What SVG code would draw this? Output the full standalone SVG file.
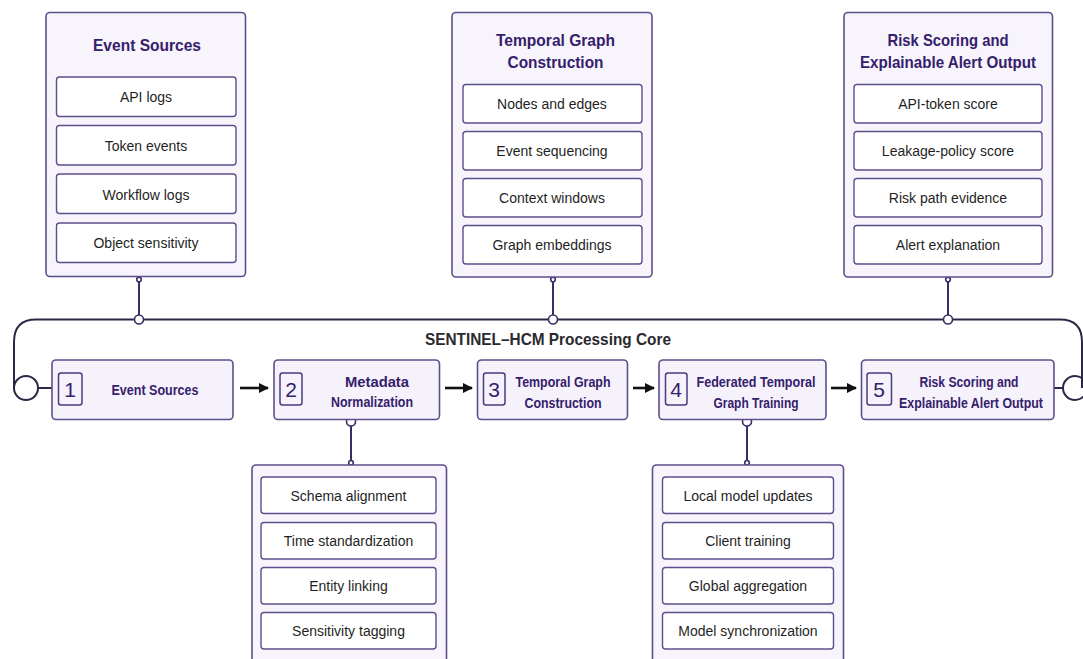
<svg xmlns="http://www.w3.org/2000/svg" width="1083" height="659" viewBox="0 0 1083 659">
<defs>
<style>
.panel{fill:#f7f4fc;stroke:#5d4e8c;stroke-width:1.6}
.item{fill:#ffffff;stroke:#5d4e8c;stroke-width:1.4}
.stage{fill:#f6f2fc;stroke:#5d4e8c;stroke-width:1.6}
.num{fill:#f6f2fc;stroke:#4a3b7c;stroke-width:1.5}
.ptitle{font-family:"Liberation Sans",Arial,sans-serif;font-size:17px;font-weight:bold;fill:#35206b;text-anchor:middle}
.itxt{font-family:"Liberation Sans",Arial,sans-serif;font-size:14px;fill:#1f1f24;text-anchor:middle}
.stxt{font-family:"Liberation Sans",Arial,sans-serif;font-size:14.5px;font-weight:bold;fill:#35206b;text-anchor:middle}
.ntxt{font-family:"Liberation Sans",Arial,sans-serif;font-size:21px;fill:#35206b;text-anchor:middle}
.core{font-family:"Liberation Sans",Arial,sans-serif;font-size:16.5px;font-weight:bold;fill:#2a2a2e;text-anchor:middle}
.wire{fill:none;stroke:#2c2745;stroke-width:2}
.vwire{fill:none;stroke:#3a2d66;stroke-width:2}
.dot{fill:#ffffff;stroke:#3a2d66;stroke-width:1.6}
.arrow{fill:none;stroke:#111;stroke-width:2.6}
</style>
<marker id="ah" viewBox="0 0 10 10" refX="9" refY="5" markerWidth="4" markerHeight="4" orient="auto" markerUnits="strokeWidth">
<path d="M0,0 L10,5 L0,10 z" fill="#111"/>
</marker>
</defs>
<rect width="1083" height="659" fill="#ffffff"/>

<g id="connectors">
<path class="wire" d="M1060,319.5 L36,319.5 Q14,319.5 14,342 L14,388"/>
<path class="wire" d="M1060,319.5 Q1082,319.5 1082,342 L1082,388"/>
<circle class="wire" cx="26" cy="388" r="12"/>
<circle class="wire" cx="1075" cy="388" r="12"/>
<line class="wire" x1="38" y1="388" x2="52" y2="388"/>
<line class="wire" x1="1054" y1="388" x2="1063" y2="388"/>
<line class="vwire" x1="139" y1="279" x2="139" y2="319"/>
<line class="vwire" x1="553" y1="279" x2="553" y2="319"/>
<line class="vwire" x1="948" y1="279" x2="948" y2="319"/>
<circle class="dot" cx="139" cy="279.5" r="2.3"/>
<circle class="dot" cx="553" cy="279.5" r="2.3"/>
<circle class="dot" cx="948" cy="279.5" r="2.3"/>
<circle class="dot" cx="139" cy="319.5" r="4.5"/>
<circle class="dot" cx="553" cy="319.5" r="4.5"/>
<circle class="dot" cx="948" cy="319.5" r="4.5"/>
<line class="vwire" x1="351" y1="421" x2="351" y2="463"/>
<line class="vwire" x1="747" y1="421" x2="747" y2="463"/>
<circle class="dot" cx="351" cy="421.5" r="4.5"/>
<circle class="dot" cx="747" cy="421.5" r="4.5"/>
<circle class="dot" cx="351" cy="462.8" r="2.3"/>
<circle class="dot" cx="747" cy="462.8" r="2.3"/>
<line class="arrow" x1="240" y1="388" x2="268" y2="388" marker-end="url(#ah)"/>
<line class="arrow" x1="445" y1="388" x2="472" y2="388" marker-end="url(#ah)"/>
<line class="arrow" x1="633" y1="388" x2="654" y2="388" marker-end="url(#ah)"/>
<line class="arrow" x1="831" y1="388" x2="856" y2="388" marker-end="url(#ah)"/>
</g>

<text class="core" x="548" y="345" textLength="246" lengthAdjust="spacingAndGlyphs">SENTINEL–HCM Processing Core</text>

<g id="panel-event-sources">
<rect class="panel" x="46" y="12.5" width="199.5" height="264" rx="4"/>
<text class="ptitle" x="147" y="51" textLength="108" lengthAdjust="spacingAndGlyphs">Event Sources</text>
<rect class="item" x="56.5" y="77" width="179.5" height="39.5" rx="3"/>
<text class="itxt" x="146" y="102">API logs</text>
<rect class="item" x="56.5" y="125.5" width="179.5" height="39.5" rx="3"/>
<text class="itxt" x="146" y="151">Token events</text>
<rect class="item" x="56.5" y="174" width="179.5" height="39.5" rx="3"/>
<text class="itxt" x="146" y="200">Workflow logs</text>
<rect class="item" x="56.5" y="223" width="179.5" height="39.5" rx="3"/>
<text class="itxt" x="146" y="248">Object sensitivity</text>
</g>

<g id="panel-temporal-graph">
<rect class="panel" x="452" y="12.5" width="200" height="264.5" rx="4"/>
<text class="ptitle" x="555.5" y="46" textLength="119" lengthAdjust="spacingAndGlyphs">Temporal Graph</text>
<text class="ptitle" x="555.5" y="68" textLength="96" lengthAdjust="spacingAndGlyphs">Construction</text>
<rect class="item" x="463" y="84.5" width="179" height="38.5" rx="3"/>
<text class="itxt" x="552" y="109">Nodes and edges</text>
<rect class="item" x="463" y="131.5" width="179" height="38.5" rx="3"/>
<text class="itxt" x="552" y="156">Event sequencing</text>
<rect class="item" x="463" y="178.5" width="179" height="38.5" rx="3"/>
<text class="itxt" x="552" y="203">Context windows</text>
<rect class="item" x="463" y="225.5" width="179" height="38.5" rx="3"/>
<text class="itxt" x="552" y="250">Graph embeddings</text>
</g>

<g id="panel-risk-scoring">
<rect class="panel" x="844" y="12.5" width="208.5" height="264.5" rx="4"/>
<text class="ptitle" x="948" y="46" textLength="121" lengthAdjust="spacingAndGlyphs">Risk Scoring and</text>
<text class="ptitle" x="948" y="68" textLength="176" lengthAdjust="spacingAndGlyphs">Explainable Alert Output</text>
<rect class="item" x="854" y="84.5" width="188" height="38.5" rx="3"/>
<text class="itxt" x="948" y="109">API-token score</text>
<rect class="item" x="854" y="131.5" width="188" height="38.5" rx="3"/>
<text class="itxt" x="948" y="156">Leakage-policy score</text>
<rect class="item" x="854" y="178.5" width="188" height="38.5" rx="3"/>
<text class="itxt" x="948" y="203">Risk path evidence</text>
<rect class="item" x="854" y="225.5" width="188" height="38.5" rx="3"/>
<text class="itxt" x="948" y="250">Alert explanation</text>
</g>

<g id="stage-1">
<rect class="stage" x="52" y="360" width="181" height="59.5" rx="4"/>
<rect class="num" x="58.5" y="373" width="23.5" height="32" rx="2.5"/>
<text class="ntxt" x="70.2" y="396.5">1</text>
<text class="stxt" x="155" y="395" textLength="87" lengthAdjust="spacingAndGlyphs">Event Sources</text>
</g>

<g id="stage-2">
<rect class="stage" x="274" y="360" width="165.5" height="59.5" rx="4"/>
<rect class="num" x="280" y="373" width="22" height="32" rx="2.5"/>
<text class="ntxt" x="291" y="396.5">2</text>
<text class="stxt" x="377" y="387" textLength="64" lengthAdjust="spacingAndGlyphs">Metadata</text>
<text class="stxt" x="372" y="407" textLength="82" lengthAdjust="spacingAndGlyphs">Normalization</text>
</g>

<g id="stage-3">
<rect class="stage" x="477.5" y="360" width="150" height="59.5" rx="4"/>
<rect class="num" x="483.5" y="373" width="21.5" height="32" rx="2.5"/>
<text class="ntxt" x="494.2" y="396.5">3</text>
<text class="stxt" x="563" y="387" textLength="95" lengthAdjust="spacingAndGlyphs">Temporal Graph</text>
<text class="stxt" x="563" y="407.5" textLength="77" lengthAdjust="spacingAndGlyphs">Construction</text>
</g>

<g id="stage-4">
<rect class="stage" x="659" y="360" width="167" height="59.5" rx="4"/>
<rect class="num" x="665.5" y="373" width="21.5" height="32" rx="2.5"/>
<text class="ntxt" x="676.2" y="396.5">4</text>
<text class="stxt" x="756" y="387" textLength="119" lengthAdjust="spacingAndGlyphs">Federated Temporal</text>
<text class="stxt" x="756" y="407.5" textLength="85" lengthAdjust="spacingAndGlyphs">Graph Training</text>
</g>

<g id="stage-5">
<rect class="stage" x="861.5" y="360" width="192.5" height="59.5" rx="4"/>
<rect class="num" x="867" y="373" width="24.5" height="32" rx="2.5"/>
<text class="ntxt" x="879.2" y="396.5">5</text>
<text class="stxt" x="969" y="387" textLength="99" lengthAdjust="spacingAndGlyphs">Risk Scoring and</text>
<text class="stxt" x="971" y="407.5" textLength="144" lengthAdjust="spacingAndGlyphs">Explainable Alert Output</text>
</g>

<g id="panel-metadata">
<rect class="panel" x="252" y="465" width="194.5" height="210" rx="4"/>
<rect class="item" x="261" y="477" width="175" height="36.5" rx="3"/>
<text class="itxt" x="348.5" y="500.5">Schema alignment</text>
<rect class="item" x="261" y="522.5" width="175" height="36.5" rx="3"/>
<text class="itxt" x="348.5" y="545.5">Time standardization</text>
<rect class="item" x="261" y="567.5" width="175" height="36.5" rx="3"/>
<text class="itxt" x="348.5" y="591">Entity linking</text>
<rect class="item" x="261" y="612.5" width="175" height="36.5" rx="3"/>
<text class="itxt" x="348.5" y="636">Sensitivity tagging</text>
</g>

<g id="panel-federated">
<rect class="panel" x="652.5" y="465" width="191" height="210" rx="4"/>
<rect class="item" x="662.5" y="477" width="171" height="36.5" rx="3"/>
<text class="itxt" x="748" y="500.5">Local model updates</text>
<rect class="item" x="662.5" y="522.5" width="171" height="36.5" rx="3"/>
<text class="itxt" x="748" y="545.5">Client training</text>
<rect class="item" x="662.5" y="567.5" width="171" height="36.5" rx="3"/>
<text class="itxt" x="748" y="591">Global aggregation</text>
<rect class="item" x="662.5" y="612.5" width="171" height="36.5" rx="3"/>
<text class="itxt" x="748" y="636">Model synchronization</text>
</g>
</svg>
